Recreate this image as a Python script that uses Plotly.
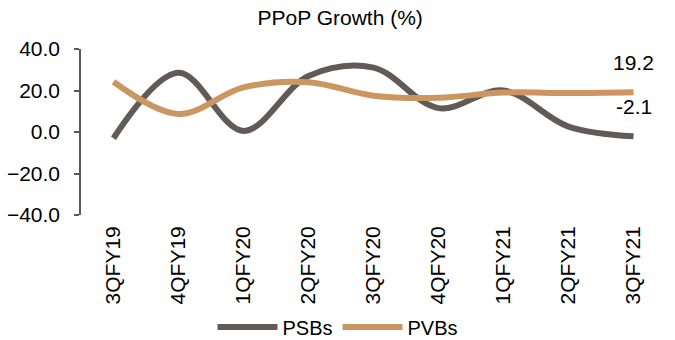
import plotly.graph_objects as go

categories = ["3QFY19", "4QFY19", "1QFY20", "2QFY20", "3QFY20", "4QFY20", "1QFY21", "2QFY21", "3QFY21"]
psbs = [-3.0, 28.5, 0.5, 27.0, 31.0, 11.5, 20.0, 2.6, -2.1]
pvbs = [24.2, 8.7, 21.5, 24.0, 17.5, 16.5, 19.0, 18.8, 19.2]
y_ticks = [-40, -20, 0, 20, 40]

FONT = "Liberation Sans, Arial, sans-serif"
C_PSB = "#625a56"
C_PVB = "#cc9660"
AX = "#595959"

fig = go.Figure()
fig.add_trace(go.Scatter(x=categories, y=psbs, name="PSBs", mode="lines",
                         line=dict(color=C_PSB, width=6, shape="spline", smoothing=1.0)))
fig.add_trace(go.Scatter(x=categories, y=pvbs, name="PVBs", mode="lines",
                         line=dict(color=C_PVB, width=6, shape="spline", smoothing=1.0)))

for series in (pvbs, psbs):
    fig.add_annotation(x=categories[-1], y=series[-1], text=f"{series[-1]:.1f}",
                       showarrow=False, yshift=30, font=dict(family=FONT, size=21, color="black"))

n = len(categories)
fig.update_layout(
    width=675, height=340,
    margin=dict(l=81, r=9, t=49, b=125, autoexpand=False),
    plot_bgcolor="white", paper_bgcolor="white",
    font=dict(family=FONT, size=20, color="black"),
    title=dict(text="PPoP Growth (%)", x=0.504, xref="container", xanchor="center",
               y=1 - 18 / 340, yref="container", yanchor="middle",
               font=dict(family=FONT, size=21, color="black")),
    showlegend=True,
    legend=dict(orientation="h", x=(338 - 81) / 585, xanchor="center",
                y=(215 - 327) / 166, yanchor="middle", itemwidth=60,
                font=dict(family=FONT, size=20, color="black"), bgcolor="rgba(0,0,0,0)"),
    xaxis=dict(type="category", categoryorder="array", categoryarray=categories,
               range=[-0.5, n - 0.5], showline=False, showgrid=False, zeroline=False,
               ticks="", tickangle=-90, ticklabelstandoff=6, automargin=False,
               tickfont=dict(family=FONT, size=21, color="black")),
    xaxis2=dict(overlaying="x", anchor="free", position=0.5, range=[-0.5, n - 0.5],
                tickmode="array", tickvals=[i + 0.5 for i in range(n)], automargin=False,
                showticklabels=False, ticks="outside", ticklen=5, tickcolor=AX, tickwidth=1.5,
                showline=True, linecolor=AX, linewidth=1.5, showgrid=False, zeroline=False),
    yaxis=dict(range=[-40, 40], tickmode="array", tickvals=y_ticks, tickformat=".1f",
               showline=True, linecolor=AX, linewidth=1.5, ticks="outside", ticklen=5,
               tickcolor=AX, tickwidth=1.5, showgrid=False, zeroline=False,
               ticklabelstandoff=10, automargin=False,
               tickfont=dict(family=FONT, size=21, color="black")),
)

fig.write_html("out.html")
